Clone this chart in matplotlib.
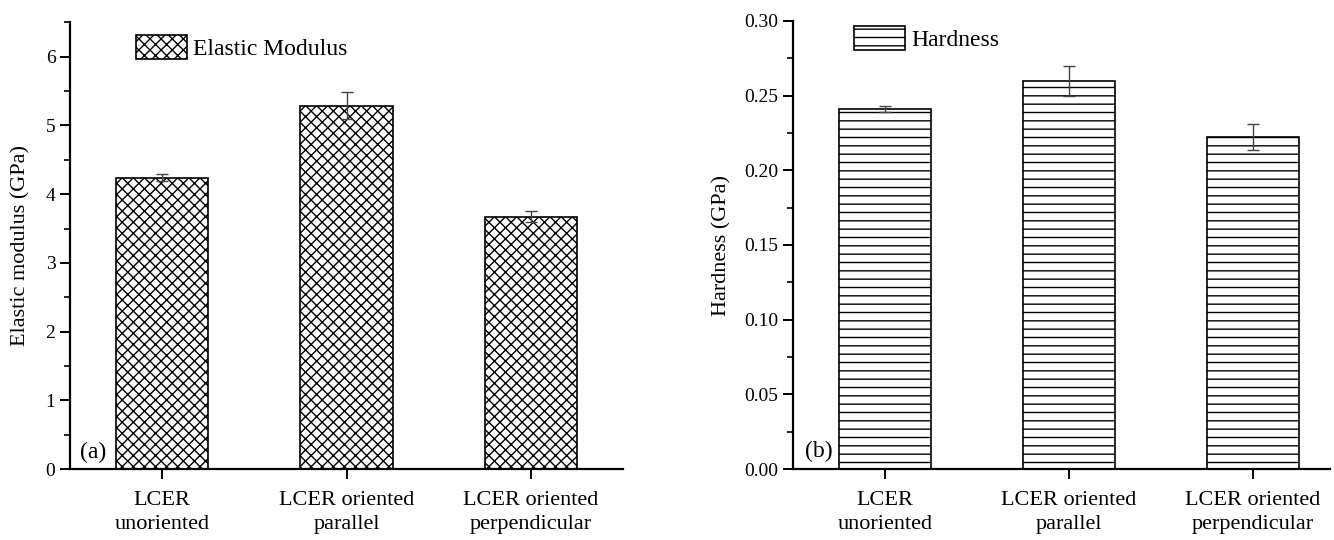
import matplotlib
matplotlib.use("Agg")
import matplotlib.pyplot as plt
from matplotlib.ticker import MultipleLocator, FormatStrFormatter

categories = ["LCER\nunoriented", "LCER oriented\nparallel", "LCER oriented\nperpendicular"]
modulus = [4.24, 5.29, 3.67]
modulus_err = [0.05, 0.19, 0.08]
hardness = [0.241, 0.260, 0.2225]
hardness_err = [0.002, 0.010, 0.0088]

plt.rcParams['font.family'] = ['Liberation Serif', 'DejaVu Serif']
plt.rcParams['hatch.linewidth'] = 1.0
plt.rcParams['hatch.color'] = 'black'

fig = plt.figure(figsize=(13.34, 5.40), dpi=100)
W, H = 1334, 540

def px_axes(x0, y0, x1, y1):
    return fig.add_axes([x0 / W, 1 - y1 / H, (x1 - x0) / W, (y1 - y0) / H])

axA = px_axes(70, 22.4, 623, 469)
axB = px_axes(793, 21, 1330, 469)

x = list(range(len(categories)))
tick_fs = 14
lab_fs = 16
leg_fs = 17

def style(ax):
    for s in ['top', 'right']:
        ax.spines[s].set_visible(False)
    for s in ['left', 'bottom']:
        ax.spines[s].set_linewidth(1.6)
    ax.tick_params(axis='both', which='major', direction='out', length=7.5, width=1.4,
                   labelsize=tick_fs, pad=3)
    ax.tick_params(axis='y', which='minor', direction='out', length=4, width=1.2)
    ax.tick_params(axis='x', labelsize=lab_fs, pad=8)
    ax.set_xticks(x)
    ax.set_xticklabels(categories, linespacing=1.4)

barsA = axA.bar(x, modulus, width=0.5, color='white', edgecolor='black',
                linewidth=1.2, hatch='xxx', label='Elastic Modulus', zorder=2)
axA.errorbar(x, modulus, yerr=modulus_err, fmt='none', ecolor='#444444',
             elinewidth=1.0, capsize=4.5, capthick=1.0, zorder=3)
axA.set_xlim(-0.5, 2.5)
axA.set_ylim(0, 6.5)
axA.yaxis.set_major_locator(MultipleLocator(1))
axA.yaxis.set_minor_locator(MultipleLocator(0.5))
style(axA)
axA.set_ylabel('Elastic modulus (GPa)', fontsize=lab_fs)
axA.yaxis.set_label_coords(-0.072, 0.5)
axA.text(0.018, 0.036, '(a)', transform=axA.transAxes, fontsize=leg_fs, va='center', ha='left')
axA.legend(loc='upper left', bbox_to_anchor=(119 / W, 1 - 18 / H), bbox_transform=fig.transFigure,
           frameon=False, fontsize=leg_fs, handlelength=2.2, handleheight=1.25,
           handletextpad=0.25, borderpad=0.2)

barsB = axB.bar(x, hardness, width=0.5, color='white', edgecolor='black',
                linewidth=1.2, hatch='--', label='Hardness', zorder=2)
axB.errorbar(x, hardness, yerr=hardness_err, fmt='none', ecolor='#444444',
             elinewidth=1.0, capsize=4.5, capthick=1.0, zorder=3)
axB.set_xlim(-0.5, 2.418)
axB.set_ylim(0, 0.30)
axB.yaxis.set_major_locator(MultipleLocator(0.05))
axB.yaxis.set_minor_locator(MultipleLocator(0.025))
axB.yaxis.set_major_formatter(FormatStrFormatter('%.2f'))
style(axB)
axB.set_ylabel('Hardness (GPa)', fontsize=lab_fs)
axB.yaxis.set_label_coords(-0.114, 0.5)
axB.text(0.022, 0.04, '(b)', transform=axB.transAxes, fontsize=leg_fs, va='center', ha='left')
axB.legend(loc='upper left', bbox_to_anchor=(837 / W, 1 - 9 / H), bbox_transform=fig.transFigure,
           frameon=False, fontsize=leg_fs, handlelength=2.2, handleheight=1.25,
           handletextpad=0.25, borderpad=0.2)

fig.savefig('out.png', dpi=100)
